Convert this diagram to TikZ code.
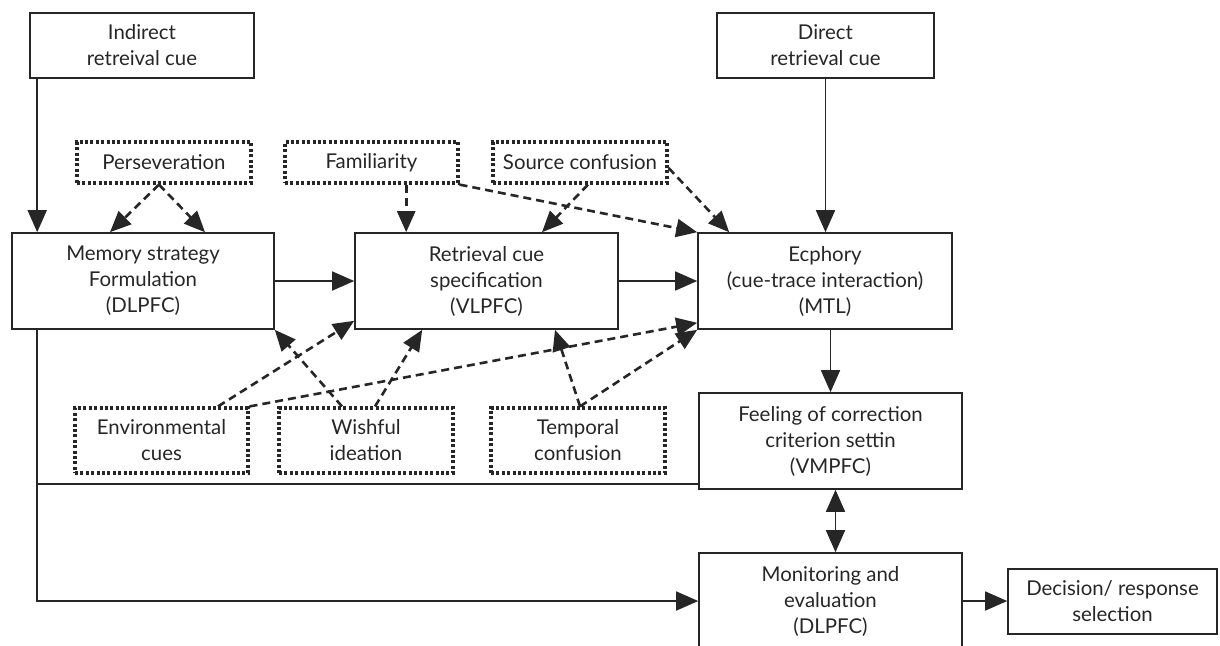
\documentclass[tikz,border=0pt]{standalone}
\usepackage{fontspec}
\setmainfont{Lato}
\usetikzlibrary{arrows.meta}
\definecolor{ink}{HTML}{262626}
\begin{document}
\begin{tikzpicture}[x=0.5pt,y=-0.5pt,
  font=\fontsize{10.2}{13}\selectfont, text=ink,
  box/.style={draw=ink, line width=0.8pt, inner sep=0pt, align=center},
  dbox/.style={draw=ink, line width=1.6pt, dash pattern=on 1.5pt off 1.2pt, inner sep=0pt, align=center},
  plain/.style={draw=ink, line width=0.8pt},
  sarr/.style={draw=ink, line width=0.8pt, -{Triangle[length=11pt,width=9.5pt]}},
  darr/.style={draw=ink, line width=1.3pt, dash pattern=on 4pt off 2.5pt, -{Triangle[length=10.5pt,width=9pt]}},
  dblarr/.style={draw=ink, line width=0.8pt, {Triangle[length=11pt,width=9.5pt]}-{Triangle[length=11pt,width=9.5pt]}},
]
\useasboundingbox (0,0) rectangle (1220,645);
\clip (0,0) rectangle (1220,645);

% solid boxes
\node[box, minimum width=112pt, minimum height=32.5pt] (ind) at (142,45.5) {Indirect\\retreival cue};
\node[box, minimum width=108.5pt, minimum height=32.5pt] (dir) at (825.5,45.5) {Direct\\retrieval cue};
\node[box, minimum width=131pt, minimum height=48pt] (mem) at (143,281) {Memory strategy\\Formulation\\(DLPFC)};
\node[box, minimum width=131.5pt, minimum height=48pt] (ret) at (486.5,281) {Retrieval cue\\specification\\(VLPFC)};
\node[box, minimum width=127pt, minimum height=48pt] (ecp) at (825,281) {Ecphory\\(cue-trace interaction)\\(MTL)};
\node[box, minimum width=131.5pt, minimum height=48pt] (feel) at (830.5,441) {Feeling of correction\\criterion settin\\(VMPFC)};
\node[box, minimum width=131.5pt, minimum height=48pt] (mon) at (830.5,601) {Monitoring and\\evaluation\\(DLPFC)};
\node[box, minimum width=104.5pt, minimum height=32.5pt] (dec) at (1112.5,601.5) {Decision/ response\\selection};

% dotted boxes
\node[dbox, minimum width=87pt, minimum height=20.5pt] (pers) at (164,162.5) {Perseveration};
\node[dbox, minimum width=86.5pt, minimum height=20.5pt] (fam) at (371.5,162.5) {Familiarity};
\node[dbox, minimum width=87pt, minimum height=20.5pt] (src) at (580,162.5) {Source confusion};
\node[dbox, minimum width=86.5pt, minimum height=32.5pt] (env) at (161.5,440.5) {Environmental\\cues};
\node[dbox, minimum width=87pt, minimum height=32.5pt] (wish) at (366,440.5) {Wishful\\ideation};
\node[dbox, minimum width=87pt, minimum height=32.5pt] (temp) at (578,440.5) {Temporal\\confusion};

% solid connectors
\coordinate (lx) at ([xshift=13pt]mem.south west);
\draw[sarr] ([xshift=4pt]ind.south west) -- ([xshift=4pt]ind.south west |- mem.north);
\draw[sarr] (dir.south) -- (dir.south |- ecp.north);
\draw[sarr] (mem.east) -- (ret.west);
\draw[sarr] (ret.east) -- (ecp.west);
\draw[sarr] (feel.north |- ecp.south) -- (feel.north);
\draw[dblarr] ([xshift=2.5pt]feel.south) -- ([xshift=2.5pt]mon.north);
\draw[sarr] (mon.east) -- (mon.east -| dec.west);
\draw[sarr] (lx) |- (mon.west);
\coordinate (fl) at ([yshift=3pt]feel.south west);
\draw[plain] (fl) -- (fl -| lx);

% dashed connectors (top)
\draw[darr] ([xshift=-2.5pt]pers.south) -- ([xshift=-16.5pt]mem.north);
\draw[darr] ([xshift=-2.5pt]pers.south) -- ([xshift=31pt]mem.north);
\coordinate (fx) at ([xshift=26pt]ret.north west);
\draw[darr] (fx |- fam.south) -- (fx);
\draw[darr] (fam.south east) -- (ecp.north west);
\draw[darr] ([xshift=4pt]src.south) -- ([xshift=27.75pt]ret.north);
\draw[darr] ([yshift=-2.75pt]src.east) -- ([xshift=16pt]ecp.north west);

% dashed connectors (bottom)
\draw[darr] ([xshift=28.25pt]env.north) -- ([yshift=4.5pt]ret.south west);
\draw[darr] (env.north east) -- ([yshift=3.5pt]ecp.south west);
\draw[darr] ([xshift=-12pt]wish.north) -- (mem.south east);
\draw[darr] ([xshift=4.5pt]wish.north) -- ([xshift=34pt]ret.south west);
\draw[darr] ([xshift=1pt]temp.north) -- ([xshift=34.25pt]ret.south);
\draw[darr] ([xshift=1pt]temp.north) -- (ecp.south west);
\end{tikzpicture}
\end{document}
